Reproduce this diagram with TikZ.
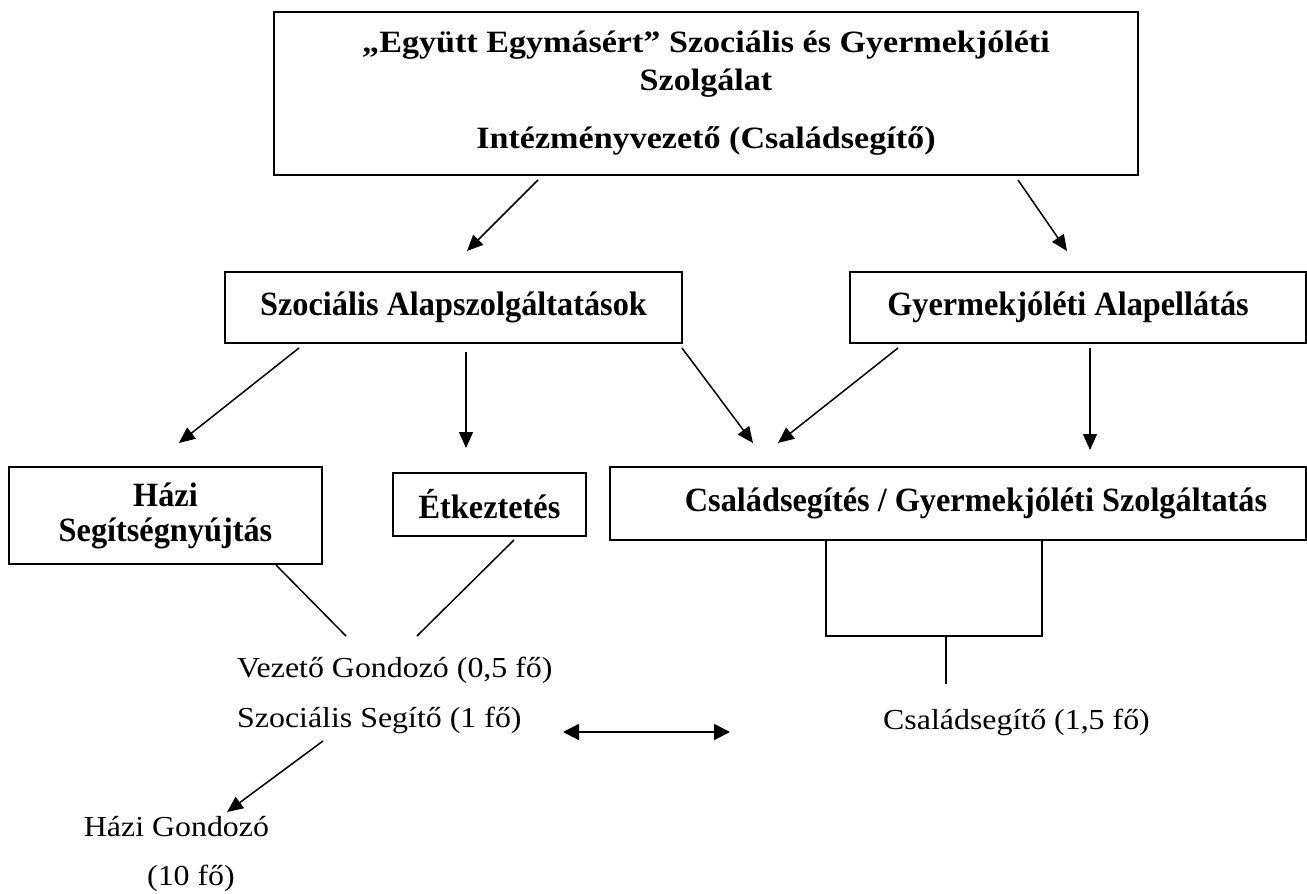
\documentclass[tikz,border=0pt]{standalone}
\usepackage{fontspec}
\setmainfont{Liberation Serif}
\newfontfamily\palfont[FakeStretch=1.1]{Liberation Serif}
\newfontfamily\tnrfont[FakeStretch=0.95]{Liberation Serif}
\usetikzlibrary{arrows.meta}
\begin{document}
\begin{tikzpicture}[x=1pt,y=-1pt,
  box/.style={draw, line width=1.8pt, inner sep=0pt, align=center},
  btxt/.style={font=\tnrfont\bfseries\fontsize{34}{35}\selectfont},
  ptxt/.style={font=\palfont\fontsize{29}{36}\selectfont, inner sep=0pt},
  arr/.style={line width=1.5pt, -{Triangle[length=16pt,width=14pt]}},
  conn/.style={line width=1.5pt},
  darr/.style={line width=2pt, {Triangle[length=16pt,width=16pt]}-{Triangle[length=16pt,width=16pt]}}]
\fill[white] (0,0) rectangle (1307,894);
\useasboundingbox (0,0) rectangle (1307,894);

% boxes
\node[box, minimum width=864, minimum height=163, font=\palfont\bfseries\fontsize{31}{38}\selectfont] (top) at (706,93.5)
  {„Együtt Egymásért” Szociális és Gyermekjóléti\\Szolgálat\\[20pt]Intézményvezető (Családsegítő)};
\node[box, btxt, minimum width=457, minimum height=71] (szoc) at (453.5,307.5) {Szociális Alapszolgáltatások};
\node[box, btxt, minimum width=456, minimum height=71] (gyer) at (1078,307.5) {Gyermekjóléti Alapellátás\hspace*{20pt}};
\node[box, btxt, minimum width=313, minimum height=97] (hazi) at (165.5,515.5) {Házi\\Segítségnyújtás};
\node[box, btxt, minimum width=193, minimum height=63] (etk) at (489.5,504.5) {Étkeztetés};
\node[box, btxt, minimum width=696, minimum height=73] (csal) at (958,503.5) {\hspace*{36pt}Családsegítés / Gyermekjóléti Szolgáltatás};

% staff texts
\node[ptxt, anchor=west] (vez) at (237,670) {Vezető Gondozó (0,5 fő)};
\node[ptxt, anchor=west] (szs) at (237,720) {Szociális Segítő (1 fő)};
\node[ptxt, anchor=west] (csg) at (883,722) {Családsegítő (1,5 fő)};
\node[ptxt] (hg) at (176.5,827) {Házi Gondozó};
\node[ptxt] (hgn) at (191,878) {(10 fő)};

% connector end points
\coordinate (a1s) at (538,180);  \coordinate (a1e) at (467,251);
\coordinate (a2s) at (1018,180); \coordinate (a2e) at (1067,251);
\coordinate (a3s) at (299,348);  \coordinate (a3e) at (179,443);
\coordinate (a4s) at (466,352);  \coordinate (a4e) at (466,448);
\coordinate (a5s) at (682,348);  \coordinate (a5e) at (753,443);
\coordinate (a6s) at (898,348);  \coordinate (a6e) at (778,443);
\coordinate (a7s) at (1090,348); \coordinate (a7e) at (1090,450);
\coordinate (l1s) at (276,565);  \coordinate (l1e) at (346,636);
\coordinate (l2s) at (514,540);  \coordinate (l2e) at (417,636);
\coordinate (bl) at (826,636);   \coordinate (br) at (1042,636);
\coordinate (bm) at (946,636);   \coordinate (bs) at (946,684);
\coordinate (dl) at (563,732);   \coordinate (dr) at (730,732);
\coordinate (a8s) at (323,741);  \coordinate (a8e) at (227,812);

% arrows
\draw[arr] (a1s) -- (a1e);
\draw[arr] (a2s) -- (a2e);
\draw[arr] (a3s) -- (a3e);
\draw[arr] (a4s) -- (a4e);
\draw[arr] (a5s) -- (a5e);
\draw[arr] (a6s) -- (a6e);
\draw[arr] (a7s) -- (a7e);
\draw[conn] (l1s) -- (l1e);
\draw[conn] (l2s) -- (l2e);
\draw[conn] (csal.south -| bl) -- (bl) -- (br) -- (csal.south -| br);
\draw[conn] (bm) -- (bs);
\draw[darr] (dl) -- (dr);
\draw[arr] (a8s) -- (a8e);
\end{tikzpicture}
\end{document}
